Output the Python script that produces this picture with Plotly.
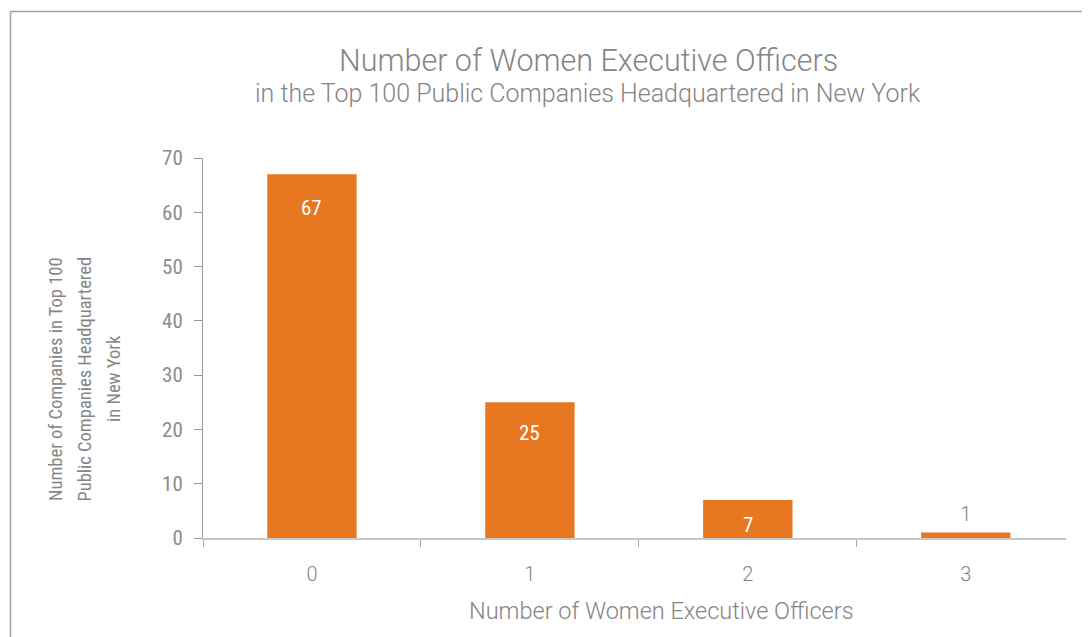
import plotly.graph_objects as go

# ---- data ----
categories = ["0", "1", "2", "3"]
companies = [67, 25, 7, 1]
y_ticks = [0, 10, 20, 30, 40, 50, 60, 70]
title_main = "Number of Women Executive Officers"
title_sub = "in the Top 100 Public Companies Headquartered in New York"
x_title = "Number of Women Executive Officers"
y_title_lines = ["Number of Companies in Top 100",
                 "Public Companies Headquartered",
                 "in New York"]

# ---- layout constants (screen px of the page; page body has 8px margin) ----
OFF = 8
W, H = 1090 - OFF, 637 - OFF
L = 203 - OFF
T = 158 - OFF
R = W - (1066 - OFF)
B = H - (538 - OFF)
pw, ph = W - L - R, H - T - B


def px_x(px):
    return (px - OFF - L) / pw


def px_y(py):
    return (H - B - (py - OFF)) / ph


GRAY = "#858585"
ORANGE = "#E87722"
COND = "Liberation Sans Narrow, Roboto Condensed, Arial Narrow, Roboto, sans-serif"
LIGHT = "Roboto, Lato, sans-serif"

fig = go.Figure(
    go.Bar(
        x=categories,
        y=companies,
        width=0.41,
        marker=dict(color=ORANGE, line=dict(width=0)),
        hoverinfo="skip",
    )
)

# value labels
label_shift = [-34, -31, -25, 19]
for c, v, s in zip(categories, companies, label_shift):
    inside = s < 0
    fig.add_annotation(
        x=c, y=v, xref="x", yref="y", text=str(v), showarrow=False,
        yshift=s, yanchor="middle",
        font=dict(family=COND if inside else LIGHT, size=21,
                  color="white" if inside else GRAY,
                  weight=400 if inside else 300),
    )

# titles
fig.add_annotation(
    x=px_x(588), y=px_y(60), xref="paper", yref="paper", text=title_main,
    showarrow=False, xanchor="center", yanchor="middle",
    font=dict(family=LIGHT, size=30.5, color=GRAY, weight=300),
)
fig.add_annotation(
    x=px_x(588), y=px_y(94), xref="paper", yref="paper", text=title_sub,
    showarrow=False, xanchor="center", yanchor="middle",
    font=dict(family=LIGHT, size=25, color=GRAY, weight=300),
)
fig.add_annotation(
    x=px_x(661), y=px_y(611), xref="paper", yref="paper", text=x_title,
    showarrow=False, xanchor="center", yanchor="middle",
    font=dict(family=LIGHT, size=23.5, color=GRAY, weight=300),
)
for line, xpx in zip(y_title_lines, [56, 84.5, 114]):
    fig.add_annotation(
        x=px_x(xpx), y=px_y(379), xref="paper", yref="paper", text=line,
        showarrow=False, xanchor="center", yanchor="middle", textangle=-90,
        font=dict(family=COND, size=18.5, color=GRAY),
    )

# frame lines
fig.add_shape(type="line", xref="paper", yref="paper",
              x0=px_x(10.5), x1=px_x(1100), y0=px_y(11.5), y1=px_y(11.5),
              line=dict(color="#a0a0a0", width=1.5))
fig.add_shape(type="line", xref="paper", yref="paper",
              x0=px_x(10.5), x1=px_x(10.5), y0=px_y(11.5), y1=px_y(650),
              line=dict(color="#a0a0a0", width=1.5))

fig.update_layout(
    width=W, height=H,
    margin=dict(l=L, r=R, t=T, b=B, pad=0),
    paper_bgcolor="white", plot_bgcolor="white",
    showlegend=False,
    font=dict(family=LIGHT, color=GRAY),
    xaxis=dict(
        type="category", range=[-0.5, 3.46], tickson="boundaries",
        ticks="outside", ticklen=7, tickcolor="#aaaaaa", tickwidth=1,
        showline=True, linecolor="#c8c8c8", linewidth=2,
        showgrid=False, zeroline=False,
        tickfont=dict(family=LIGHT, size=20, color=GRAY, weight=300),
        ticklabelstandoff=17,
    ),
    yaxis=dict(
        range=[0, 70], tickvals=y_ticks, ticks="outside", ticklen=8,
        tickcolor="#999999", showline=True, linecolor="#999999", linewidth=1,
        showgrid=False, zeroline=False,
        tickfont=dict(family=COND, size=21, color="#8c8c8c"),
        ticklabelstandoff=7,
    ),
)

fig.write_html("out.html")
